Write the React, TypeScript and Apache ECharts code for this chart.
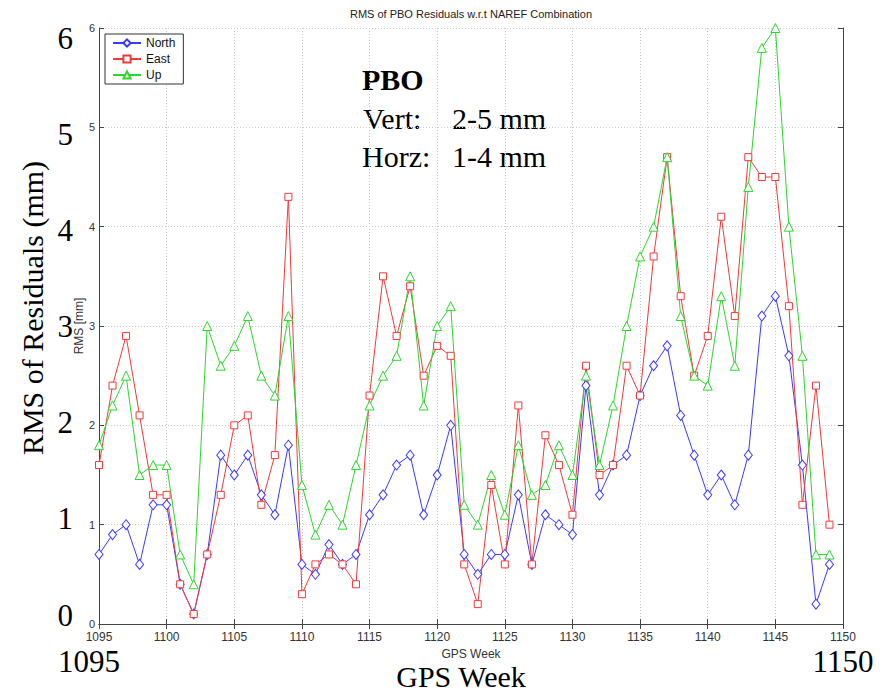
import React, { useEffect, useRef } from "react";
import * as echarts from "echarts";

const weeks = [
  1095, 1096, 1097, 1098, 1099, 1100, 1101, 1102, 1103, 1104,
  1105, 1106, 1107, 1108, 1109, 1110, 1111, 1112, 1113, 1114,
  1115, 1116, 1117, 1118, 1119, 1120, 1121, 1122, 1123, 1124,
  1125, 1126, 1127, 1128, 1129, 1130, 1131, 1132, 1133, 1134,
  1135, 1136, 1137, 1138, 1139, 1140, 1141, 1142, 1143, 1144,
  1145, 1146, 1147, 1148, 1149,
];

const north = [
  0.7, 0.9, 1.0, 0.6, 1.2, 1.2, 0.4, 0.1, 0.7, 1.7,
  1.5, 1.7, 1.3, 1.1, 1.8, 0.6, 0.5, 0.8, 0.6, 0.7,
  1.1, 1.3, 1.6, 1.7, 1.1, 1.5, 2.0, 0.7, 0.5, 0.7,
  0.7, 1.3, 0.6, 1.1, 1.0, 0.9, 2.4, 1.3, 1.6, 1.7,
  2.3, 2.6, 2.8, 2.1, 1.7, 1.3, 1.5, 1.2, 1.7, 3.1,
  3.3, 2.7, 1.6, 0.2, 0.6,
];

const east = [
  1.6, 2.4, 2.9, 2.1, 1.3, 1.3, 0.4, 0.1, 0.7, 1.3,
  2.0, 2.1, 1.2, 1.7, 4.3, 0.3, 0.6, 0.7, 0.6, 0.4,
  2.3, 3.5, 2.9, 3.4, 2.5, 2.8, 2.7, 0.6, 0.2, 1.4,
  0.6, 2.2, 0.6, 1.9, 1.6, 1.1, 2.6, 1.5, 1.6, 2.6,
  2.3, 3.7, 4.7, 3.3, 2.5, 2.9, 4.1, 3.1, 4.7, 4.5,
  4.5, 3.2, 1.2, 2.4, 1.0,
];

const up = [
  1.8, 2.2, 2.5, 1.5, 1.6, 1.6, 0.7, 0.4, 3.0, 2.6,
  2.8, 3.1, 2.5, 2.3, 3.1, 1.4, 0.9, 1.2, 1.0, 1.6,
  2.2, 2.5, 2.7, 3.5, 2.2, 3.0, 3.2, 1.2, 1.0, 1.5,
  1.1, 1.8, 1.3, 1.4, 1.8, 1.5, 2.5, 1.6, 2.2, 3.0,
  3.7, 4.0, 4.7, 3.1, 2.5, 2.4, 3.3, 2.6, 4.4, 5.8,
  6.0, 4.0, 2.7, 0.7, 0.7,
];

const seriesNames = ["North", "East", "Up"];
const bigXLabels = [1095, 1150];

const SANS = "'Liberation Sans', Arial, sans-serif";
const SERIF = "'Liberation Serif', 'Times New Roman', serif";
const AXIS = "#444";

export default function App() {
  const ref = useRef<HTMLDivElement>(null);

  useEffect(() => {
    if (!ref.current) return;
    const chart = echarts.init(ref.current, null, { renderer: "svg" });

    const mk = (name: string, vals: number[], color: string, symbol: string, size: any) => ({
      name,
      type: "line",
      xAxisIndex: 0,
      yAxisIndex: 0,
      data: weeks.map((w, i) => [w, vals[i]]),
      symbol,
      symbolSize: size,
      showAllSymbol: true,
      color,
      lineStyle: { color, width: 1 },
      itemStyle: { color: "#ffffff", borderColor: color, borderWidth: 1 },
      emphasis: { disabled: true },
    });

    const inner = {
      min: 1095,
      max: 1150,
      interval: 5,
    };

    chart.setOption({
      animation: false,
      title: {
        text: "RMS of PBO Residuals w.r.t NAREF Combination",
        left: 471,
        top: 8,
        textAlign: "center",
        padding: 0,
        textStyle: { fontSize: 11, fontWeight: "normal", fontFamily: SANS, color: "#222" },
      },
      legend: {
        orient: "vertical",
        left: 105,
        top: 34,
        padding: [2, 8, 2, 7],
        itemGap: 2,
        itemWidth: 28,
        itemHeight: 9,
        borderColor: "#333",
        borderWidth: 1,
        backgroundColor: "#fff",
        data: seriesNames,
        textStyle: { fontSize: 12, fontFamily: SANS, color: "#111", lineHeight: 14 },
      },
      grid: [
        { left: 99, right: 47, top: 28, bottom: 69, show: false },
        { left: 89, right: 47, top: 38, bottom: 78, show: false },
      ],
      xAxis: [
        {
          type: "value",
          gridIndex: 0,
          ...inner,
          position: "bottom",
          name: "GPS Week",
          nameLocation: "middle",
          nameGap: 22,
          nameTextStyle: { fontSize: 12, fontFamily: SANS, color: "#333" },
          axisLine: { show: true, lineStyle: { color: AXIS, width: 1 } },
          axisTick: { show: true, inside: true, length: 5, lineStyle: { color: AXIS } },
          axisLabel: {
            fontSize: 12,
            fontFamily: SANS,
            color: "#333",
            margin: 7,
            formatter: (v: number) => String(v),
          },
          splitLine: { show: true, lineStyle: { color: "#c8c8c8", type: [1, 2], width: 1 } },
        },
        {
          type: "value",
          gridIndex: 0,
          ...inner,
          position: "top",
          axisLine: { show: true, lineStyle: { color: AXIS, width: 1 } },
          axisTick: { show: true, inside: true, length: 5, lineStyle: { color: AXIS } },
          axisLabel: { show: false },
          splitLine: { show: false },
        },
        {
          type: "value",
          gridIndex: 1,
          ...inner,
          position: "bottom",
          axisLine: { show: false },
          axisTick: { show: false },
          splitLine: { show: false },
          axisLabel: {
            fontSize: 31,
            fontFamily: SERIF,
            color: "#000",
            margin: 31,
            showMinLabel: true,
            showMaxLabel: true,
            formatter: (v: number) => (bigXLabels.indexOf(v) >= 0 ? String(v) : ""),
          },
        },
      ],
      yAxis: [
        {
          type: "value",
          gridIndex: 0,
          min: 0,
          max: 6,
          interval: 1,
          position: "left",
          name: "RMS [mm]",
          nameLocation: "middle",
          nameGap: 14,
          nameMoveOverlap: false,
          nameTextStyle: { fontSize: 12, fontFamily: SANS, color: "#333" },
          axisLine: { show: true, lineStyle: { color: AXIS, width: 1 } },
          axisTick: { show: true, inside: true, length: 5, lineStyle: { color: AXIS } },
          axisLabel: { fontSize: 11, fontFamily: SANS, color: "#333", margin: 4, lineHeight: 12 },
          splitLine: { show: true, lineStyle: { color: "#c8c8c8", type: [1, 2], width: 1 } },
        },
        {
          type: "value",
          gridIndex: 0,
          min: 0,
          max: 6,
          interval: 1,
          position: "right",
          axisLine: { show: true, lineStyle: { color: AXIS, width: 1 } },
          axisTick: { show: true, inside: true, length: 5, lineStyle: { color: AXIS } },
          axisLabel: { show: false },
          splitLine: { show: false },
        },
        {
          type: "value",
          gridIndex: 1,
          min: 0,
          max: 6,
          interval: 1,
          position: "left",
          axisLine: { show: false },
          axisTick: { show: false },
          splitLine: { show: false },
          axisLabel: { fontSize: 31, fontFamily: SERIF, color: "#000", margin: 16 },
        },
      ],
      series: [
        mk("North", north, "#3a3aff", "diamond", [8, 10]),
        mk("East", east, "#f03a3a", "rect", 7),
        mk("Up", up, "#2cd62c", "triangle", 9),
      ],
      graphic: [
        {
          type: "text",
          x: 362,
          y: 79,
          style: { text: "PBO", font: `bold 30px ${SERIF}`, fill: "#000", align: "left", verticalAlign: "middle" },
        },
        {
          type: "text",
          x: 363,
          y: 118,
          style: { text: "Vert:", font: `30px ${SERIF}`, fill: "#000", align: "left", verticalAlign: "middle" },
        },
        {
          type: "text",
          x: 452,
          y: 118,
          style: { text: "2-5 mm", font: `30px ${SERIF}`, fill: "#000", align: "left", verticalAlign: "middle" },
        },
        {
          type: "text",
          x: 362,
          y: 156,
          style: { text: "Horz:", font: `30px ${SERIF}`, fill: "#000", align: "left", verticalAlign: "middle" },
        },
        {
          type: "text",
          x: 452,
          y: 156,
          style: { text: "1-4 mm", font: `30px ${SERIF}`, fill: "#000", align: "left", verticalAlign: "middle" },
        },
        {
          type: "text",
          x: 32,
          y: 308,
          rotation: Math.PI / 2,
          style: {
            text: "RMS of Residuals (mm)",
            font: `30px ${SERIF}`,
            fill: "#000",
            align: "center",
            verticalAlign: "middle",
          },
        },
        {
          type: "text",
          x: 461,
          y: 676,
          style: { text: "GPS Week", font: `30px ${SERIF}`, fill: "#000", align: "center", verticalAlign: "middle" },
        },
      ],
    });

    return () => chart.dispose();
  }, []);

  return (
    <div
      ref={ref}
      style={{ position: "absolute", left: 0, top: 0, width: 890, height: 693, background: "#fff" }}
    />
  );
}
